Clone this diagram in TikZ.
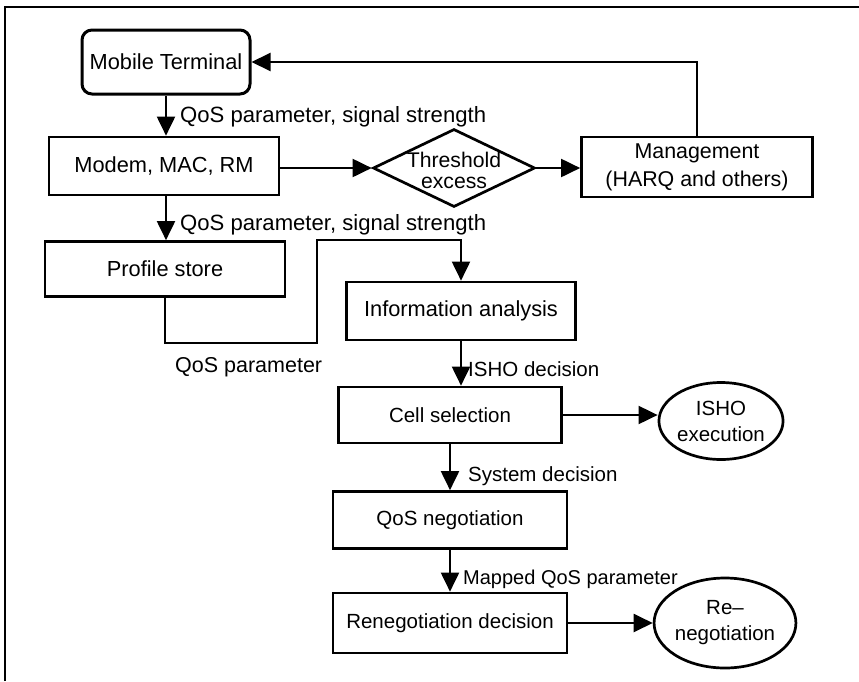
\documentclass[tikz,border=0pt]{standalone}
\usepackage{fontspec}
\setmainfont{Liberation Sans}
\usetikzlibrary{arrows.meta,shapes.geometric}
\begin{document}
\begin{tikzpicture}[x=1pt,y=-1pt,
  every node/.style={font=\fontsize{21.8}{27}\selectfont},
  small/.style={font=\fontsize{20.5}{26}\selectfont},
  box/.style={draw,line width=2.7pt,inner sep=0pt,align=center},
  oval/.style={ellipse,draw,line width=2.7pt,inner sep=0pt,align=center},
  conn/.style={line width=2pt,-{Triangle[length=19pt,width=18pt]}},
  lbl/.style={anchor=base west,inner sep=0pt}]
\useasboundingbox (0,0) rectangle (859,681);

% frame (top and left edges)
\draw[line width=1.5pt] (5,681) -- (5,7) -- (859,7);

% blocks
\node[box,rounded corners=10pt,line width=3pt,minimum width=168pt,minimum height=64pt] (mt) at (166,62) {Mobile Terminal};
\node[box,minimum width=230pt,minimum height=58pt] (modem) at (164,166) {Modem, MAC, RM};
\node[diamond,draw,line width=2.7pt,inner sep=0pt,minimum width=162pt,minimum height=78pt] (thr) at (454,168) {};
\node[align=center,inner sep=0pt,font=\fontsize{21.2}{27}\selectfont] (thrtxt) at (454,170) {Threshold\\[-6pt]excess};
\node[box,minimum width=231pt,minimum height=60pt,font=\fontsize{21.4}{28}\selectfont] (mgmt) at (697,167) {Management\\(HARQ and others)};
\node[box,minimum width=240pt,minimum height=55pt] (prof) at (165,269) {Profile store};
\node[box,minimum width=229pt,minimum height=58pt] (info) at (461,311) {Information analysis};
\node[box,small,minimum width=223pt,minimum height=56pt] (cell) at (450,415) {Cell selection};
\node[oval,small,minimum width=119pt,minimum height=77pt] (isho) at (721,421) {ISHO\\execution};
\node[box,small,minimum width=234pt,minimum height=57pt] (qos) at (450,520) {QoS negotiation};
\node[box,small,minimum width=234pt,minimum height=60pt] (reneg) at (450,623) {Renegotiation decision};
\node[oval,small,minimum width=116pt,minimum height=90pt] (reneo) at (725,623) {Re–\\negotiation};

% junction points of the profile store link
\coordinate (j1) at (317,343);
\coordinate (j2) at (317,240);

% connectors
\draw[conn] (mt.south) -- (mt.south |- modem.north);
\draw[conn] (modem.east |- thr.west) -- (thr.west);
\draw[conn] (thr.east) -- (thr.east -| mgmt.west);
\draw[conn] (mgmt.north) -- (mgmt.north |- mt.east) -- (mt.east);
\draw[conn] (mt.south |- modem.south) -- (mt.south |- prof.north);
\draw[conn] (prof.south) |- (j1) -- (j2) -| (info.north);
\draw[conn] (info.south) -- (info.south |- cell.north);
\draw[conn] (cell.east) -- (cell.east -| isho.west);
\draw[conn] (cell.south) -- (cell.south |- qos.north);
\draw[conn] (qos.south) -- (qos.south |- reneg.north);
\draw[conn] (reneg.east) -- (reneo.west);

% connector labels
\node[lbl,font=\fontsize{22.1}{27}\selectfont] (l1) at (180,122) {QoS parameter, signal strength};
\node[lbl,font=\fontsize{22.1}{27}\selectfont] (l2) at (180,230) {QoS parameter, signal strength};
\node[lbl,font=\fontsize{21.5}{27}\selectfont] (l3) at (175,372) {QoS parameter};
\node[lbl,small] (l4) at (468,376) {ISHO decision};
\node[lbl,small] (l5) at (468,481) {System decision};
\node[lbl,font=\fontsize{20}{24}\selectfont] (l6) at (463,584) {Mapped QoS parameter};
\end{tikzpicture}
\end{document}
